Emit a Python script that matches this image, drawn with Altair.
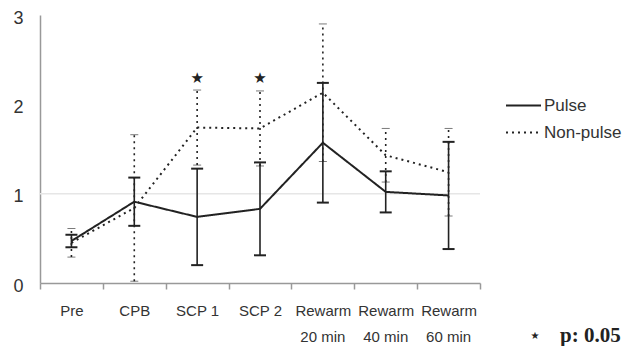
import altair as alt
import pandas as pd

categories = ["Pre", "CPB", "SCP 1", "SCP 2", "Rewarm 20 min", "Rewarm 40 min", "Rewarm 60 min"]
label_line1 = ["Pre", "CPB", "SCP 1", "SCP 2", "Rewarm", "Rewarm", "Rewarm"]
label_line2 = ["", "", "", "", "20 min", "40 min", "60 min"]
series_names = ["Pulse", "Non-pulse"]
pulse_mean = [0.47, 0.91, 0.74, 0.83, 1.57, 1.02, 0.98]
pulse_err = [0.07, 0.27, 0.54, 0.52, 0.67, 0.23, 0.60]
nonpulse_mean = [0.45, 0.84, 1.74, 1.73, 2.13, 1.43, 1.24]
nonpulse_err = [0.16, 0.82, 0.42, 0.42, 0.77, 0.30, 0.49]
sig_categories = ["SCP 1", "SCP 2"]
sig_values = [2.29, 2.29]
y_ticks = [0, 1, 2, 3]
grid_values = [1]

rows = []
for name, means, errs in [("Pulse", pulse_mean, pulse_err), ("Non-pulse", nonpulse_mean, nonpulse_err)]:
    for i, (c, m, e) in enumerate(zip(categories, means, errs)):
        rows.append({"cat": c, "idx": i, "series": name, "mean": m, "lo": max(m - e, 0), "hi": m + e})
df = pd.DataFrame(rows)
sig = pd.DataFrame({"cat": sig_categories, "v": sig_values, "mark": ["★"] * len(sig_categories)})
grid_df = pd.DataFrame({"g": grid_values})
sub_df = pd.DataFrame({"cat": categories, "sub": label_line2})

INK = "#222222"
LBL = "#333333"
FONT = "Liberation Sans"

first_line_map = "{" + ", ".join(f"'{c}': '{l}'" for c, l in zip(categories, label_line1)) + "}"

xscale = alt.Scale(type="band", domain=categories, paddingInner=0, paddingOuter=0)
yscale = alt.Scale(domain=[0, 3], nice=False)
dash = alt.Scale(domain=series_names, range=[[1, 0], [2, 4]])

x_axis = alt.Axis(labelAngle=0, ticks=True, tickSize=6, tickBand="extent",
                  tickColor="#999999", tickWidth=1.5,
                  domainColor="#999999", domainWidth=1.5,
                  labelFont=FONT, labelFontSize=15, labelColor=LBL,
                  labelPadding=14, labelExpr=f"{first_line_map}[datum.label]")
y_axis = alt.Axis(values=y_ticks, format="d", ticks=False, domainColor="#999999", domainWidth=1.5,
                  labelFont=FONT, labelFontSize=18, labelColor=LBL,
                  labelPadding=17, labelOffset=3, grid=False)

def X():
    return alt.X("cat:N", scale=xscale, title=None, axis=x_axis)

def Y(field):
    return alt.Y(f"{field}:Q", scale=yscale, title=None, axis=y_axis)

base = alt.Chart(df)

gridline = alt.Chart(grid_df).mark_rule(color="#e6e6e6", strokeWidth=1.5).encode(y=Y("g"))

lines = base.mark_line(color=INK, strokeWidth=2).encode(
    x=X(),
    y=Y("mean"),
    order="idx:Q",
    strokeDash=alt.StrokeDash("series:N", scale=dash, title=None,
                              legend=alt.Legend(orient="none", legendX=465, legendY=72,
                                                symbolType="stroke", symbolSize=1225,
                                                symbolStrokeWidth=2, symbolStrokeColor=INK,
                                                labelFont=FONT, labelFontSize=17,
                                                labelColor=LBL, rowPadding=0,
                                                labelOffset=2, padding=0)),
)

rules = base.mark_rule(color=INK, strokeWidth=1.6).encode(
    x=X(),
    y=Y("lo"),
    y2="hi:Q",
    strokeDash=alt.StrokeDash("series:N", scale=dash, legend=None),
)

def caps(series, field, size, thickness, opacity):
    return base.transform_filter(f"datum.series == '{series}'").mark_tick(
        color=INK, size=size, thickness=thickness, opacity=opacity
    ).encode(x=X(), y=Y(field))

stars = alt.Chart(sig).mark_text(
    font="DejaVu Sans", fontSize=15, color=INK, align="center", baseline="middle"
).encode(x=X(), y=Y("v"), text="mark:N")

sublabels = alt.Chart(sub_df).mark_text(
    font=FONT, fontSize=15, color=LBL, align="center", baseline="middle"
).encode(x=X(), y=alt.value(54 + 268), text="sub:N")

note = alt.Chart(pd.DataFrame({"t": ["p: 0.05"]})).mark_text(
    font="Liberation Serif", fontWeight="bold", fontSize=21, color=INK, align="left", baseline="alphabetic"
).encode(x=alt.value(520), y=alt.value(327), text="t:N")
note_star = alt.Chart(pd.DataFrame({"t": ["★"]})).mark_text(
    font="DejaVu Sans", fontSize=10, color=INK, align="center", baseline="middle"
).encode(x=alt.value(495), y=alt.value(321), text="t:N")

chart = alt.layer(
    gridline, lines, rules,
    caps("Pulse", "lo", 12, 2, 1), caps("Pulse", "hi", 12, 2, 1),
    caps("Non-pulse", "lo", 8, 1, 0.6), caps("Non-pulse", "hi", 8, 1, 0.6),
    stars, sublabels, note, note_star,
).properties(
    width=440, height=268,
    autosize=alt.AutoSizeParams(type="none"),
    padding={"left": 32, "top": 7, "right": 146, "bottom": 63},
).configure_view(stroke=None)

chart.save("out.html", embed_options={"renderer": "svg", "actions": False})
